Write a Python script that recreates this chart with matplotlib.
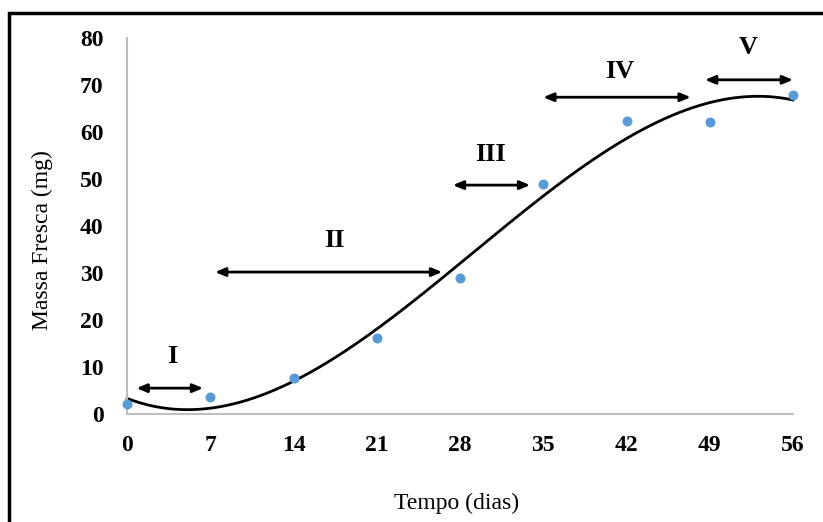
import matplotlib.pyplot as plt
import numpy as np
from matplotlib.patches import Rectangle

# data
dias = [0, 7, 14, 21, 28, 35, 42, 49, 56]
massa = [2.1, 3.6, 7.7, 16.2, 28.9, 48.9, 62.3, 62.1, 67.9]

# growth phases: label, x start, x end, arrow height, label x, label y
fases = ['I', 'II', 'III', 'IV', 'V']
fase_ini = [0.8, 7.4, 27.4, 35.0, 48.6]
fase_fim = [6.4, 26.5, 33.9, 47.4, 56.0]
fase_y = [5.5, 30.2, 48.7, 67.4, 71.1]
rotulo_x = [3.8, 17.4, 30.6, 41.4, 52.2]
rotulo_y = [12.3, 37.0, 55.3, 72.8, 77.9]

plt.rcParams['font.family'] = ['Liberation Serif', 'DejaVu Serif']

fig = plt.figure(figsize=(8.23, 5.22), dpi=100)
ax = fig.add_axes([127 / 823, 1 - 414 / 522, 666 / 823, 376 / 522])

# polynomial (order 3) trendline, as in the spreadsheet
coef = np.polyfit(dias, massa, 3)
xs = np.linspace(0, 56, 300)
ax.plot(xs, np.polyval(coef, xs), color='black', lw=2.0, clip_on=False, zorder=2)
ax.scatter(dias, massa, s=52, color='#5B9BD5', clip_on=False, zorder=3, linewidths=0)

for lab, x0, x1, y, lx, ly in zip(fases, fase_ini, fase_fim, fase_y, rotulo_x, rotulo_y):
    ax.annotate('', xy=(x1, y), xytext=(x0, y),
                arrowprops=dict(arrowstyle='<|-|>,head_length=0.6,head_width=0.25',
                                color='black', lw=2.0, shrinkA=0, shrinkB=0))
    ax.text(lx, ly, lab, ha='center', va='center', fontsize=19, fontweight='bold')

ax.set_xlim(0, 56)
ax.set_ylim(0, 80)
ax.set_xticks(dias)
ax.set_yticks(range(0, 81, 10))
ax.tick_params(length=0, labelsize=17)
ax.tick_params(axis='y', pad=17)
ax.tick_params(axis='x', pad=15)
for t in ax.get_xticklabels() + ax.get_yticklabels():
    t.set_fontweight('bold')

for s in ['top', 'right']:
    ax.spines[s].set_visible(False)
for s in ['left', 'bottom']:
    ax.spines[s].set_color('#bfbfbf')
    ax.spines[s].set_linewidth(1.5)

fig.text(42 / 823, 1 - 240 / 522, 'Massa Fresca (mg)', rotation=90,
         ha='center', va='center', fontsize=17)
fig.text(457 / 823, 1 - 503 / 522, 'Tempo (dias)', ha='center', va='center', fontsize=17)

# outer frame (runs off the right and bottom edges)
fig.patches.append(Rectangle((9 / 823, -0.1), 1.1, 0.1 + 1 - 13 / 522,
                             transform=fig.transFigure, fill=False,
                             edgecolor='black', lw=2.5))

fig.savefig('out.png', dpi=100)
